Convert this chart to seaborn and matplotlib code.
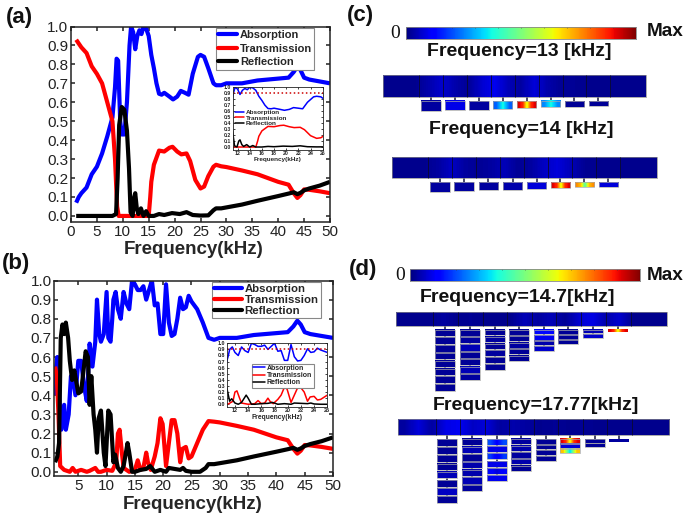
import numpy as np
import pandas as pd
import matplotlib
matplotlib.use('Agg')
import matplotlib.pyplot as plt
from matplotlib.patches import Rectangle
import seaborn as sns

# values
tail_freq = [29, 30, 33, 36, 40, 42, 43, 43.7, 44.3, 45, 46, 48, 50]
tail_abs = [0.69, 0.70, 0.70, 0.715, 0.725, 0.73, 0.76, 0.79, 0.77, 0.73, 0.72, 0.71, 0.70]
tail_trans = [0.262, 0.258, 0.24, 0.22, 0.18, 0.165, 0.12, 0.095, 0.11, 0.14, 0.138, 0.13, 0.12]
tail_refl = [0.04, 0.045, 0.06, 0.08, 0.105, 0.118, 0.125, 0.115, 0.122, 0.135, 0.145, 0.16, 0.18]

a_abs_f = [1, 1.5, 2, 3, 4, 5, 6, 7, 8, 8.5, 8.8, 9.1, 9.5, 9.8, 10.3, 10.8, 11.3, 11.6, 12, 12.4, 12.8, 13.2, 13.6, 14, 14.5, 15, 15.5, 16, 16.5, 17, 17.5, 18, 19, 19.7, 20.5, 21.2, 22, 22.7, 23.5, 24.5, 25, 25.7, 26.5, 27.5, 28]
a_abs = [0.07, 0.10, 0.12, 0.15, 0.22, 0.26, 0.33, 0.42, 0.52, 0.68, 0.83, 0.82, 0.50, 0.43, 0.43, 0.60, 0.90, 1.0, 0.97, 0.88, 0.95, 0.98, 0.96, 1.0, 0.99, 0.95, 0.85, 0.78, 0.70, 0.645, 0.64, 0.65, 0.63, 0.615, 0.63, 0.66, 0.65, 0.64, 0.75, 0.84, 0.85, 0.84, 0.78, 0.70, 0.69]
a_trans_f = [1, 1.5, 2, 3, 4, 5, 6, 7, 8, 8.5, 8.9, 9.2, 12, 15, 15.3, 15.5, 16, 17, 18, 19, 19.6, 20.5, 21.3, 22.3, 23, 24, 25, 25.7, 26.5, 27.5, 28]
a_trans = [0.93, 0.91, 0.89, 0.86, 0.79, 0.75, 0.70, 0.60, 0.50, 0.30, 0.05, 0, 0, 0, 0.10, 0.18, 0.27, 0.345, 0.34, 0.36, 0.365, 0.34, 0.325, 0.33, 0.29, 0.19, 0.145, 0.155, 0.21, 0.26, 0.27]
a_refl_f = [1, 8, 8.7, 9, 9.3, 9.8, 10.3, 10.8, 11.2, 11.5, 11.9, 12.2, 12.4, 12.7, 13, 13.5, 14, 14.5, 15, 16, 17, 18, 19.5, 21, 22.3, 23.5, 25, 26.5, 27.5, 28]
a_refl = [0, 0, 0.01, 0.20, 0.48, 0.575, 0.56, 0.45, 0.25, 0.02, 0, 0.10, 0.12, 0.04, 0.01, 0.04, 0, 0.025, 0, 0, 0.01, 0.005, 0.015, 0.01, 0.02, 0.005, 0.002, 0.003, 0.03, 0.04]

b_abs_f = [0.9, 1.1, 1.3, 1.5, 2, 2.5, 2.8, 3.3, 3.7, 4, 4.5, 5, 5.5, 6, 6.5, 7, 7.5, 8, 8.3, 8.7, 9, 9.5, 10, 10.3, 10.7, 11, 11.2, 11.6, 12, 12.5, 13, 13.5, 14, 14.5, 15, 15.5, 16, 16.5, 17, 17.5, 18, 18.5, 19, 19.5, 20, 20.5, 21, 21.5, 22, 22.5, 23, 23.5, 24, 24.5, 25, 26, 27, 28]
b_abs = [0.40, 0.55, 0.60, 0.45, 0.22, 0.35, 0.22, 0.30, 0.50, 0.50, 0.40, 0.58, 0.58, 0.45, 0.37, 0.67, 0.55, 0.68, 0.90, 0.72, 0.68, 0.72, 0.94, 0.70, 0.68, 0.80, 0.90, 0.94, 0.85, 0.80, 0.94, 0.88, 0.85, 1.0, 0.98, 0.95, 0.95, 0.97, 0.90, 0.95, 1.0, 0.87, 0.88, 0.72, 0.72, 0.98, 0.78, 0.71, 0.72, 0.80, 0.91, 0.85, 0.86, 0.92, 0.89, 0.85, 0.78, 0.70]
b_trans_f = [0.9, 1.2, 1.5, 1.8, 2.5, 3.5, 4, 4.5, 5.5, 6.5, 7, 8, 8.5, 9, 10, 11, 11.7, 12, 12.3, 12.7, 13, 14, 15, 15.5, 16, 16.5, 17, 17.3, 17.8, 18.5, 19, 19.5, 19.9, 20.5, 21, 21.5, 22, 22.5, 23, 23.4, 24, 24.5, 25, 26, 27, 28]
b_trans = [0.55, 0.50, 0.30, 0.03, 0.01, 0, 0.02, 0, 0.01, 0, 0.005, 0.02, 0, 0, 0.01, 0.005, 0.05, 0.20, 0.22, 0.10, 0.02, 0, 0.01, 0.06, 0.01, 0.02, 0.10, 0.05, 0.01, 0.08, 0.15, 0.28, 0.25, 0.03, 0.15, 0.27, 0.27, 0.20, 0.05, 0.12, 0.13, 0.07, 0.08, 0.15, 0.22, 0.265]
b_refl_f = [0.9, 1.3, 1.6, 1.9, 2.2, 2.5, 2.8, 3.2, 3.5, 3.9, 4.3, 5, 5.5, 6, 6.3, 6.7, 7, 7.3, 7.7, 8, 8.3, 8.6, 9, 9.5, 9.8, 10.3, 10.7, 11.2, 11.5, 12, 12.5, 13, 13.7, 14, 14.5, 15, 16, 17, 17.7, 18.5, 19.5, 20.5, 21, 22, 23, 23.5, 24, 25, 26.5, 27.5, 28]
b_refl = [0.05, 0.08, 0.15, 0.70, 0.77, 0.72, 0.78, 0.70, 0.58, 0.48, 0.53, 0.41, 0.42, 0.55, 0.63, 0.60, 0.35, 0.50, 0.30, 0.22, 0.10, 0.28, 0.32, 0.10, 0.03, 0.32, 0.30, 0.05, 0.09, 0.02, 0, 0.03, 0.15, 0.10, 0, 0, 0.01, 0.015, 0.03, 0, 0.01, 0, 0.02, 0.015, 0.01, 0.02, 0.005, 0, 0, 0.02, 0.04]

# field strength (0..1) in the unit cells
c1_duct = [.015, .015, .015, .04, .07, .04, .02, .07, .10, .05, .03, .08, .04, .02, .02, .015, .015, .015, .015, .015]
c2_duct = [.015, .015, .015, .03, .06, .03, .02, .03, .05, .02, .03, .06, .08, .05, .02, .015, .015, .015, .015, .015]
d1_duct = [.015, .015, .015, .03, .015, .02, .015, .015, .015, .05, .03, .05, .02, .07, .09, .04, .07, .015, .015, .015]
d2_duct = [.03, .08, .03, .09, .10, .06, .08, .03, .04, .03, .015, .02, .015, .02, .015, .015, .015, .015, .015, .015]
hot = [.92, .86, .62, .86, .92]
c1_blocks = [.03, .09, .03, [.22, .38, .22], hot, [.26, .38, .26], .02, .02]
c2_blocks = [.03, .03, .03, .04, .08, hot, [.76, .7, .45, .7, .76], .08]
d1_blocks = [[.02] * 8, [.02, .03, .05, .02, .02, .05, .03], [.02, .03, .02, .03, .02, .02], [.02, .02, .03, .02, .02],
             [.13, .10, .04, .07], [.02, .02, .02], [.05, .07], [hot]]
d2_blocks = [[.02, .02, .02, .02, .05, .02, .06, .02], [.02, .05, .02, .04, .04, .05, .03], [[.2, .12, .2], .09, [.18, .1, .18], .09, [.13, .08, .13], .1],
             [.03, .04, .03, .04, .02], [.02, .02, .02, .02], [hot, .08, [.7, .33, .7]], [.02, .02], [.03]]

labels = ['Absorption', 'Transmission', 'Reflection']
colors = ['#0000ff', '#ff0000', '#000000']

sns.set_theme(style='ticks')
plt.rcParams['font.family'] = ['Liberation Sans', 'DejaVu Sans']
plt.rcParams['axes.edgecolor'] = '#222222'
plt.rcParams['xtick.color'] = '#222222'
plt.rcParams['ytick.color'] = '#222222'

W, H = 685, 518
fig = plt.figure(figsize=(W / 100, H / 100), dpi=100)


def px_axes(l, t, r, b):
    return fig.add_axes([l / W, 1 - b / H, (r - l) / W, (b - t) / H])


def make_frame(f1, v1, f2, v2, f3, v3):
    rows = []
    for lab, f, v in zip(labels, [f1, f2, f3], [v1, v2, v3]):
        rows.append(pd.DataFrame({'freq': f, 'val': v, 'kind': lab}))
    return pd.concat(rows)


def draw_lines(ax, df, lw):
    sns.lineplot(data=df, x='freq', y='val', hue='kind', hue_order=labels, palette=colors,
                 estimator=None, sort=False, lw=lw, ax=ax, legend=False,
                 solid_joinstyle='round', solid_capstyle='butt')
    ax.set_ylabel('')


def style_axes(ax, xlim, ylim, xticks, tick_size, bold, lw, tlen):
    ax.set_xlim(xlim)
    ax.set_ylim(ylim)
    ax.set_xticks(xticks)
    ax.set_yticks(np.arange(0, 1.01, 0.1))
    ax.tick_params(which='major', direction='in', top=True, right=True, labelsize=tick_size, length=tlen, width=lw, pad=2)
    for s in ax.spines.values():
        s.set_linewidth(lw)
    if bold:
        for t in ax.get_xticklabels() + ax.get_yticklabels():
            t.set_fontweight('bold')


def add_legend(ax, lw, size, box, frame, hlen, spacing):
    handles = [plt.Line2D([], [], color=c, lw=lw) for c in colors]
    leg = ax.legend(handles, labels, loc='upper left', bbox_to_anchor=(box[0] / W, 1 - box[1] / H),
                    bbox_transform=fig.transFigure, frameon=frame, fancybox=False, edgecolor='#888888',
                    framealpha=1 if frame else 0, prop={'weight': 'bold', 'size': size}, handlelength=hlen,
                    handletextpad=0.25, labelspacing=spacing, borderpad=0.2, borderaxespad=0)
    leg.get_frame().set_linewidth(0.8)
    return leg


# panel (a)
df_a = make_frame(a_abs_f + tail_freq, a_abs + tail_abs, a_trans_f + tail_freq, a_trans + tail_trans,
                  a_refl_f + tail_freq, a_refl + tail_refl)
ax_a = px_axes(71, 26.5, 330, 222)
draw_lines(ax_a, df_a, 3)
style_axes(ax_a, (0, 50), (-0.032, 1.0), np.arange(0, 51, 5), 11, False, 1.1, 3)
ax_a.set_xlabel('Frequency(kHz)', fontsize=13.5, fontweight='bold')
ax_a.xaxis.set_label_coords(0.474, -0.095)
add_legend(ax_a, 3, 8, (216, 28), True, 1.7, 0.32)

ins_a = px_axes(232.7, 87.3, 322.7, 150)
draw_lines(ins_a, df_a, 1.1)
ins_a.axhline(0.9, color='#cc0000', lw=1.1, ls=':')
style_axes(ins_a, (11.2, 26), (-0.05, 1.0), np.arange(12, 27, 2), 3.7, True, 0.6, 1.5)
ins_a.tick_params(pad=1)
ins_a.set_xlabel('Frequency(kHz)', fontsize=4.6, fontweight='bold', labelpad=0.5)
add_legend(ins_a, 1.1, 4.6, (233.5, 108), False, 1.5, 0.05)

# panel (b)
df_b = make_frame(b_abs_f + tail_freq, b_abs + tail_abs, b_trans_f + tail_freq, b_trans + tail_trans,
                  b_refl_f + tail_freq, b_refl + tail_refl)
ax_b = px_axes(54.3, 280.5, 333, 476)
draw_lines(ax_b, df_b, 3)
style_axes(ax_b, (0.76, 50), (-0.022, 1.0), np.arange(5, 51, 5), 11, False, 1.1, 3)
ax_b.set_xlabel('Frequency(kHz)', fontsize=13.5, fontweight='bold')
ax_b.xaxis.set_label_coords(0.498, -0.1)
add_legend(ax_b, 3, 8.2, (212, 282), True, 2.4, 0.08)

ins_b = px_axes(226.7, 343.3, 327.3, 406.7)
draw_lines(ins_b, df_b, 1.1)
ins_b.axhline(0.9, color='#cc0000', lw=1.1, ls=':')
style_axes(ins_b, (10.75, 26), (-0.04, 1.0), np.arange(12, 27, 2), 3.9, True, 0.6, 1.5)
ins_b.tick_params(pad=1)
ins_b.set_xlabel('Frequency(kHz)', fontsize=4.9, fontweight='bold', labelpad=0.5)
add_legend(ins_b, 1.1, 5, (252, 363.5), True, 1.7, 0.02)


def block(ax, l, t, r, b, vals, ec='#a8a8a8'):
    vals = vals if isinstance(vals, list) else [vals]
    ax.imshow([vals], extent=(l, r, b, t), cmap='jet', vmin=0, vmax=1, aspect='auto', interpolation='bilinear')
    if ec != 'none':
        ax.add_patch(Rectangle((l, t), r - l, b - t, fill=False, ec=ec, lw=0.5))


def colour_bar(l, t, r, b):
    ax = px_axes(l, t, r, b)
    sns.heatmap(np.linspace(0, 1, 256)[None, :], cmap='jet', cbar=False, ax=ax, xticklabels=False, yticklabels=False)
    ax.vlines(np.arange(0, 257, 25.6), 0, 0.12, color='#333333', lw=0.4)
    for s in ax.spines.values():
        s.set_visible(True)
        s.set_color('#888888')
        s.set_linewidth(0.6)


def duct(ax, l, t, r, b, vals, walls):
    block(ax, l, t, r, b, vals, ec='#888888')
    ax.vlines(walls, t, b, color='#0a0a30', lw=0.6)


# panel (c), drawn in 3x crop units of the area it takes
ax_c = px_axes(345, 0, 685, 200)
c_x = [258, 330, 402, 473, 545, 617, 688, 760]
c_bot = [334, 331, 329, 327, 324, 322, 320, 318]
duct(ax_c, 115, 225, 903, 291, c1_duct, [222, 293, 365, 437, 509, 581, 653, 724, 795])
for x, bot, v in zip(c_x, c_bot, c1_blocks):
    ax_c.vlines(x, 291, 303, color='#151540', lw=1.1, zorder=-1)
    block(ax_c, x - 29, 303, x + 29, bot, v)
c_x2 = [285, 357, 430, 503, 575, 646, 718, 790]
c_bot2 = [575, 573, 571, 569, 566, 564, 562, 560]
duct(ax_c, 141, 470, 935, 533, c2_duct, [250, 322, 394, 466, 538, 610, 682, 754, 826])
for x, bot, v in zip(c_x2, c_bot2, c2_blocks):
    ax_c.vlines(x, 533, 547, color='#151540', lw=1.1, zorder=-1)
    block(ax_c, x - 29, 547, x + 29, bot, v)
ax_c.set_xlim(0, 1020)
ax_c.set_ylim(600, 0)
ax_c.axis('off')

# panel (d)
ax_d = px_axes(345, 255, 685, 518)
pitches1 = [23.4, 22.2, 20.8, 19.4, 16.5, 15, 13, 8]
pitches2 = [24.5, 23, 21.7, 20, 17, 15, 13, 9]


def ladder(x_list, top, pitches, fields):
    for x, p, col in zip(x_list, pitches, fields):
        bottom = top + p * len(col)
        ax_d.vlines(x, top - 12, bottom - p * 0.7, color='#151540', lw=1.1, zorder=-1)
        for i, v in enumerate(col):
            h = p * 0.82 if p > 9 else p
            ec = '#a8a8a8' if p > 9 else 'none'
            block(ax_d, x - 30, top + i * p, x + 30, top + i * p + h, v, ec=ec)


duct(ax_d, 153, 170, 966, 212, d1_duct, [263, 339, 413, 487, 560, 632, 707, 782, 857])
ladder([301, 375, 449, 522, 597, 670, 745, 818], 224, pitches1, d1_blocks)
duct(ax_d, 159, 493, 973, 541, d2_duct, [272, 345, 419, 493, 566, 639, 714, 787, 860])
ladder([307, 381, 455, 528, 603, 676, 750, 823], 552, pitches2, d2_blocks)
ax_d.set_xlim(0, 1020)
ax_d.set_ylim(789, 0)
ax_d.axis('off')

colour_bar(406, 27, 636, 39)
colour_bar(410.3, 269, 640.3, 281)


def put(x, y, s, size, weight='bold', ha='center', family=None):
    fig.text(x / W, 1 - y / H, s, fontsize=size, fontweight=weight, ha=ha, va='center', family=family, color='#111111')


put(6, 17, '(a)', 16, ha='left')
put(2, 263, '(b)', 16, ha='left')
put(347, 15, '(c)', 16, ha='left')
put(349, 269, '(d)', 16, ha='left')
put(519, 51, 'Frequency=13 [kHz]', 14)
put(520.8, 129, 'Frequency=14 [kHz]', 14)
put(517.7, 298, 'Frequency=14.7[kHz]', 14)
put(535.7, 406, 'Frequency=17.77[kHz]', 14)
put(395, 33, '0', 14, weight='normal', family='Liberation Serif')
put(400, 275, '0', 14, weight='normal', family='Liberation Serif')
put(665, 31, 'Max', 13.7)
put(665, 276, 'Max', 13.7)

fig.savefig('out.png', dpi=100)
